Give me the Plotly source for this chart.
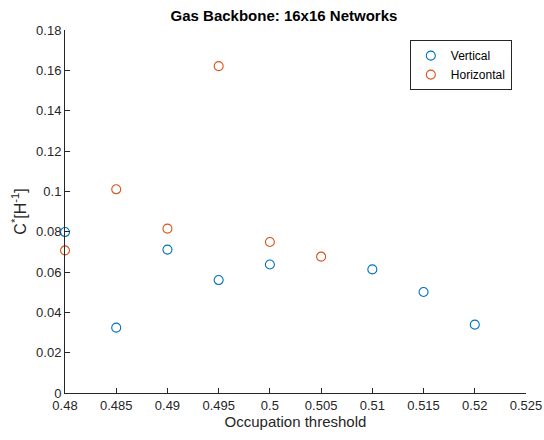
import plotly.graph_objects as go

# Occupation thresholds and backbone conductivity values
vert_x = [0.48, 0.485, 0.49, 0.495, 0.50, 0.51, 0.515, 0.52]
vert_y = [0.0798, 0.0324, 0.0711, 0.0560, 0.0637, 0.0613, 0.0501, 0.0339]
horiz_x = [0.48, 0.485, 0.49, 0.495, 0.50, 0.505]
horiz_y = [0.0707, 0.1010, 0.0815, 0.1621, 0.0749, 0.0676]

x_ticks = [0.48, 0.485, 0.49, 0.495, 0.5, 0.505, 0.51, 0.515, 0.52, 0.525]
x_ticktext = ["0.48", "0.485", "0.49", "0.495", "0.5", "0.505", "0.51", "0.515", "0.52", "0.525"]
y_ticks = [0, 0.02, 0.04, 0.06, 0.08, 0.1, 0.12, 0.14, 0.16, 0.18]
y_ticktext = ["0", "0.02", "0.04", "0.06", "0.08", "0.1", "0.12", "0.14", "0.16", "0.18"]

FONT = "Liberation Sans, Arial, sans-serif"
AX = "#262626"

fig = go.Figure()
fig.add_trace(go.Scatter(
    x=vert_x, y=vert_y, mode="markers", name="Vertical", cliponaxis=False,
    marker=dict(symbol="circle-open", size=9, color="#0072BD", line=dict(width=1.1)),
))
fig.add_trace(go.Scatter(
    x=horiz_x, y=horiz_y, mode="markers", name="Horizontal", cliponaxis=False,
    marker=dict(symbol="circle-open", size=9, color="#D95319", line=dict(width=1.1)),
))

fig.update_layout(
    width=544, height=440,
    margin=dict(l=65, r=18, t=30, b=47),
    paper_bgcolor="white", plot_bgcolor="white",
    font=dict(family=FONT, size=13, color=AX),
    title=dict(text="<b>Gas Backbone: 16x16 Networks</b>", x=0.522, xanchor="center",
               y=0.9636, yanchor="middle", font=dict(size=15, color="#000000")),
    showlegend=True,
    legend=dict(x=0.748, y=0.972, xanchor="left", yanchor="top",
                bordercolor="#262626", borderwidth=1, bgcolor="white",
                font=dict(size=12, color="#000000"), itemwidth=30,
                tracegroupgap=0),
)
fig.update_xaxes(
    range=[0.48, 0.525], tickvals=x_ticks, ticktext=x_ticktext, automargin=False,
    showgrid=False, zeroline=False, showline=True, linecolor=AX, linewidth=1,
    ticks="inside", ticklen=5, tickcolor=AX,
    title=dict(text="Occupation threshold", font=dict(size=15, color=AX), standoff=3),
)
fig.update_yaxes(
    range=[0, 0.18], tickvals=y_ticks, ticktext=y_ticktext, automargin=False,
    showgrid=False, zeroline=False, showline=True, linecolor=AX, linewidth=1,
    ticks="inside", ticklen=5, tickcolor=AX,
    title=dict(text="C<sup>*</sup>[H<sup>-1</sup>]", font=dict(size=16, color=AX), standoff=5),
)

fig.write_html("out.html")
